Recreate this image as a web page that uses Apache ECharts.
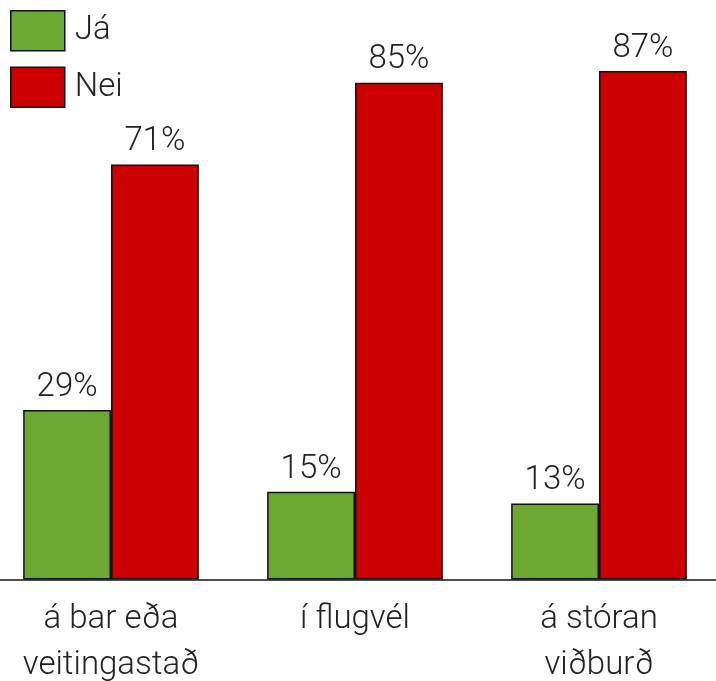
<!DOCTYPE html>
<html>
<head>
<meta charset="utf-8">
<script src="https://cdn.jsdelivr.net/npm/echarts@6/dist/echarts.min.js"></script>
<style>
  html, body { margin: 0; padding: 0; background: #fff; }
  #chart { width: 716px; height: 681px; }
</style>
</head>
<body>
<div id="chart"></div>
<script>
// Survey answers per situation (percent)
const categories = ['á bar eða\nveitingastað', 'í flugvél', 'á stóran\nviðburð'];
const seriesNames = ['Já', 'Nei'];
const yesValues = [29, 15, 13];
const noValues = [71, 85, 87];

const FONT = 'Roboto';
const TEXT = '#222';

const chart = echarts.init(document.getElementById('chart'));

function barSeries(name, data, color) {
  return {
    name: name,
    type: 'bar',
    data: data,
    barGap: '0%',
    barCategoryGap: '28%',
    itemStyle: { color: color, borderColor: '#111', borderWidth: 1.5 },
    label: {
      show: true,
      position: 'top',
      distance: 6,
      formatter: '{c}%',
      fontFamily: FONT,
      fontWeight: 300,
      fontSize: 33,
      color: TEXT
    }
  };
}

chart.setOption({
  animation: false,
  backgroundColor: '#fff',
  legend: {
    left: 10,
    top: 10,
    padding: 0,
    orient: 'vertical',
    itemWidth: 54,
    itemHeight: 40,
    itemGap: 15,
    icon: 'rect',
    itemStyle: { borderColor: '#111', borderWidth: 1.5 },
    textStyle: { fontFamily: FONT, fontWeight: 300, fontSize: 33, color: TEXT, padding: [0, 0, 0, 5] },
    data: seriesNames
  },
  grid: {
    left: -11, top: -5, width: 732, height: 584.5,
    containLabel: false,
    outerBoundsMode: 'none'
  },
  xAxis: {
    type: 'category',
    data: categories,
    axisLine: { lineStyle: { color: '#111', width: 1.5 } },
    axisTick: { show: false },
    axisLabel: {
      margin: 17,
      fontFamily: FONT,
      fontWeight: 300,
      fontSize: 33,
      lineHeight: 46,
      color: TEXT
    }
  },
  yAxis: {
    type: 'value',
    min: 0,
    max: 100,
    show: false,
    splitLine: { show: false }
  },
  series: [
    barSeries(seriesNames[0], yesValues, '#6da832'),
    barSeries(seriesNames[1], noValues, '#cc0000')
  ]
});
</script>
</body>
</html>
